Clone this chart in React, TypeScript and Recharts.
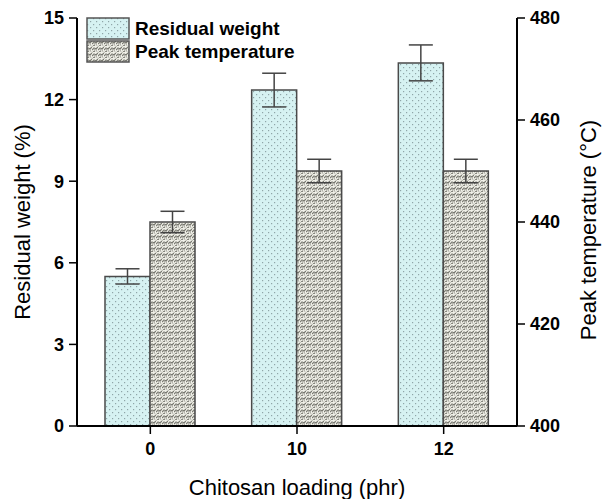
import React from "react";
import { BarChart, Bar, XAxis, YAxis, ErrorBar } from "recharts";

const loadings = ["0", "10", "12"];
const residualWeight = [5.5, 12.35, 13.35];
const residualErr = [0.28, 0.62, 0.66];
const peakTemp = [440, 450, 450];
const peakErr = [2.1, 2.3, 2.3];
const leftTicks = [0, 3, 6, 9, 12, 15];
const rightTicks = [400, 420, 440, 460, 480];

const data = loadings.map((l, i) => ({
  loading: l,
  residual: residualWeight[i],
  residualErr: residualErr[i],
  peak: peakTemp[i],
  peakErr: peakErr[i],
}));

const FONT = "'Liberation Sans', Arial, sans-serif";
const tickStyle = { fill: "#000", fontSize: 18, fontWeight: 700, fontFamily: FONT };

function Patterns() {
  return (
    <svg width={0} height={0} style={{ position: "absolute" }}>
      <defs>
        <pattern id="dots" width={6} height={6} patternUnits="userSpaceOnUse">
          <rect width={6} height={6} fill="#d6f2f2" />
          <rect x={1} y={1} width={1.2} height={1.2} fill="#8fa6a8" />
          <rect x={4} y={4} width={1.2} height={1.2} fill="#8fa6a8" />
        </pattern>
        <pattern id="weave" width={6} height={6} patternUnits="userSpaceOnUse">
          <rect width={6} height={6} fill="#f0f0e8" />
          <path d="M0,4 L2,2 L4,3 L6,1" stroke="#77776f" strokeWidth={1.2} fill="none" />
          <path d="M1,6 L3,5" stroke="#77776f" strokeWidth={1.2} fill="none" />
          <path d="M0,0.5 L1,0" stroke="#9a9a92" strokeWidth={0.8} fill="none" />
          <path d="M2,2 L3,5 M4,3 L5,6" stroke="#a5a59d" strokeWidth={0.8} fill="none" />
        </pattern>
      </defs>
    </svg>
  );
}

function LegendBox() {
  const items = [
    { label: "Residual weight", fill: "url(#dots)" },
    { label: "Peak temperature", fill: "url(#weave)" },
  ];
  return (
    <div
      style={{
        position: "absolute",
        left: 86,
        top: 17,
        fontFamily: FONT,
        fontWeight: 700,
        fontSize: 19,
        color: "#000",
      }}
    >
      {items.map((it) => (
        <div key={it.label} style={{ display: "flex", alignItems: "center", height: 23 }}>
          <svg width={44} height={23} style={{ marginRight: 5 }}>
            <rect x={1} y={1} width={42} height={21} fill={it.fill} stroke="#555" strokeWidth={1.5} />
          </svg>
          <span>{it.label}</span>
        </div>
      ))}
    </div>
  );
}

export default function App() {
  return (
    <div style={{ position: "absolute", left: 0, top: 0, width: 603, height: 499, background: "#fff" }}>
      <Patterns />
      <BarChart
        width={603}
        height={499}
        data={data}
        margin={{ top: 18, right: 0, left: 0, bottom: 0 }}
        barSize={45}
        barGap={0}
      >
        <XAxis
          dataKey="loading"
          height={73}
          tick={tickStyle}
          tickSize={8}
          tickMargin={8}
          axisLine={{ stroke: "#000", strokeWidth: 2 }}
          tickLine={{ stroke: "#000", strokeWidth: 1.5 }}
          label={{ value: "Chitosan loading (phr)", position: "insideBottom", offset: 4, fill: "#000", fontSize: 22, fontFamily: FONT }}
        />
        <YAxis
          yAxisId="left"
          orientation="left"
          width={77}
          domain={[0, 15]}
          ticks={leftTicks}
          tick={tickStyle}
          tickSize={8}
          tickMargin={5}
          axisLine={{ stroke: "#000", strokeWidth: 2 }}
          tickLine={{ stroke: "#000", strokeWidth: 1.5 }}
          label={{ value: "Residual weight (%)", angle: -90, position: "center", dx: -16, fill: "#000", fontSize: 22, fontFamily: FONT }}
        />
        <YAxis
          yAxisId="right"
          orientation="right"
          width={86}
          domain={[400, 480]}
          ticks={rightTicks}
          tick={tickStyle}
          tickSize={8}
          tickMargin={5}
          axisLine={{ stroke: "#000", strokeWidth: 2 }}
          tickLine={{ stroke: "#000", strokeWidth: 1.5 }}
          label={{ value: "Peak temperature (°C)", angle: -90, position: "center", dx: 28, dy: 8, fill: "#000", fontSize: 22, fontFamily: FONT }}
        />
        <Bar yAxisId="left" dataKey="residual" name="Residual weight" fill="url(#dots)" stroke="#4a4a4a" strokeWidth={1.5} isAnimationActive={false}>
          <ErrorBar dataKey="residualErr" width={12} stroke="#444" strokeWidth={1.5} />
        </Bar>
        <Bar yAxisId="right" dataKey="peak" name="Peak temperature" fill="url(#weave)" stroke="#4a4a4a" strokeWidth={1.5} isAnimationActive={false}>
          <ErrorBar dataKey="peakErr" width={12} stroke="#444" strokeWidth={1.5} />
        </Bar>
      </BarChart>
      <LegendBox />
    </div>
  );
}
